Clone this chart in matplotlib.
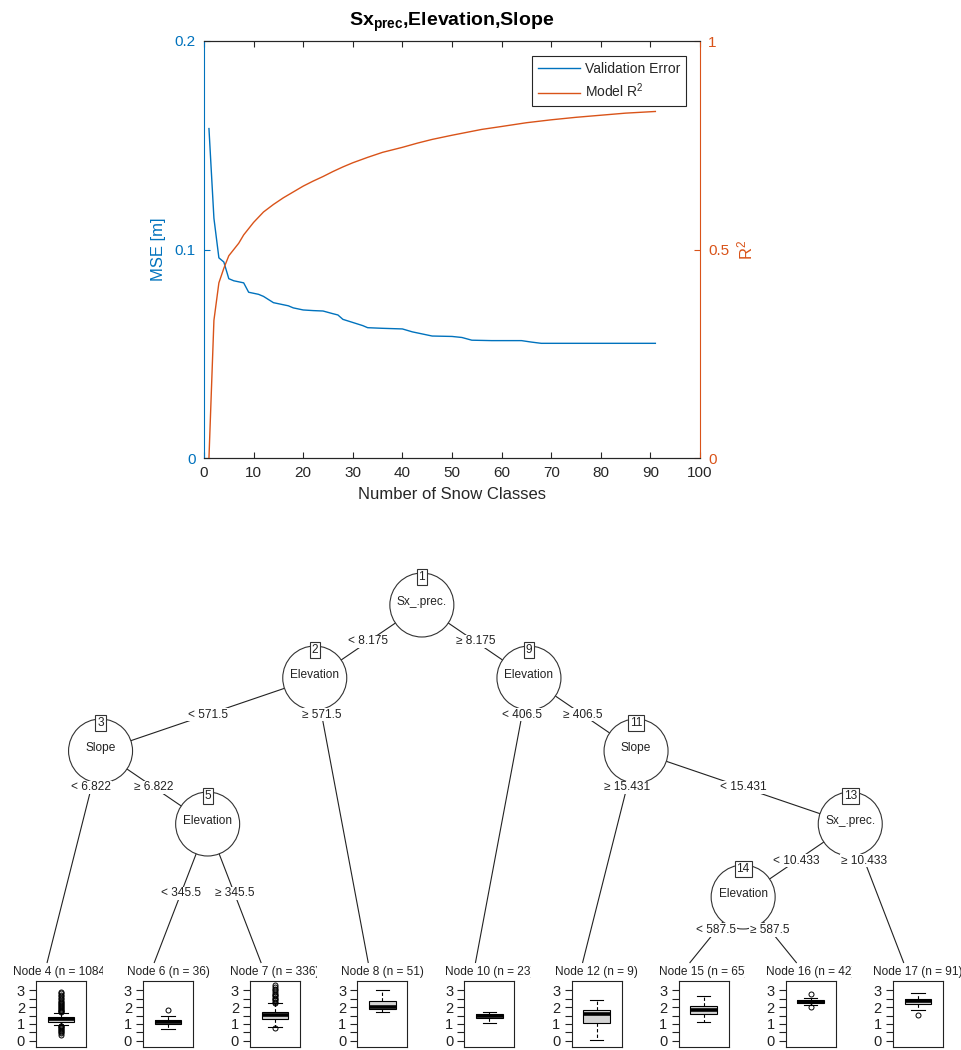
import matplotlib
matplotlib.use("Agg")
import matplotlib.pyplot as plt
from matplotlib import font_manager as fm
from matplotlib.patches import Circle
from matplotlib.transforms import Bbox, TransformedBbox
from matplotlib.ticker import FixedLocator, NullFormatter

# ---------------- cross-validation curves ----------------
mse_classes = [1, 2, 3, 4, 5, 6, 7, 8, 9, 10, 11, 12, 13, 14, 15, 16, 17, 18,
               19, 20, 22, 24, 26, 27, 28, 30, 32, 33, 36, 40, 42, 44, 46, 50,
               52, 54, 58, 64, 66, 68, 91]
mse_values = [0.158, 0.115, 0.096, 0.094, 0.086, 0.085, 0.0845, 0.084, 0.0795,
              0.079, 0.0785, 0.0775, 0.076, 0.0745, 0.074, 0.0735, 0.073,
              0.072, 0.0715, 0.071, 0.0707, 0.0705, 0.0692, 0.0686, 0.0665,
              0.065, 0.0635, 0.0625, 0.0622, 0.0619, 0.0605, 0.0595, 0.0585,
              0.0583, 0.0578, 0.0565, 0.0563, 0.0563, 0.0556, 0.055, 0.055]

r2_classes = [1, 2, 3, 4, 5, 6, 7, 8, 9, 10, 12, 14, 16, 18, 20, 22, 24, 26,
              28, 30, 33, 36, 40, 43, 46, 50, 53, 56, 60, 65, 70, 75, 80, 85,
              91]
r2_values = [0.0, 0.33, 0.42, 0.455, 0.485, 0.50, 0.515, 0.535, 0.55, 0.565,
             0.59, 0.608, 0.624, 0.638, 0.652, 0.664, 0.675, 0.687, 0.698,
             0.708, 0.721, 0.733, 0.745, 0.755, 0.764, 0.774, 0.781, 0.788,
             0.795, 0.804, 0.811, 0.817, 0.822, 0.827, 0.831]

x_ticks = [0, 10, 20, 30, 40, 50, 60, 70, 80, 90, 100]
mse_ticks = [0, 0.1, 0.2]
mse_tick_labels = ["0", "0.1", "0.2"]
r2_ticks = [0, 0.5, 1]
r2_tick_labels = ["0", "0.5", "1"]

# ---------------- conditional inference tree ----------------
inner_ids = [1, 2, 3, 5, 9, 11, 13, 14]
inner_vars = ["Sx_.prec.", "Elevation", "Slope", "Elevation", "Elevation",
              "Slope", "Sx_.prec.", "Elevation"]
inner_splits = [8.175, 571.5, 6.822, 345.5, 406.5, 15.431, 10.433, 587.5]
inner_left = [2, 3, 4, 6, 10, 12, 14, 15]
inner_right = [9, 8, 5, 7, 11, 13, 17, 16]
inner_left_is_lower = [True, True, True, True, True, False, True, True]

leaf_ids = [4, 6, 7, 8, 10, 12, 15, 16, 17]
leaf_n = [1084, 36, 336, 51, 23, 9, 65, 42, 91]
leaf_q1 = [1.14, 0.98, 1.28, 1.86, 1.34, 1.04, 1.59, 2.22, 2.16]
leaf_med = [1.28, 1.10, 1.53, 2.02, 1.45, 1.59, 1.82, 2.31, 2.35]
leaf_q3 = [1.43, 1.24, 1.73, 2.37, 1.60, 1.82, 2.06, 2.41, 2.51]
leaf_whislo = [0.94, 0.71, 0.80, 1.73, 1.04, 0.06, 1.10, 2.10, 1.82]
leaf_whishi = [1.66, 1.49, 2.22, 3.00, 1.69, 2.45, 2.67, 2.55, 2.86]
leaf_fliers = [
    [1.70, 1.74, 1.78, 1.83, 1.88, 1.93, 1.98, 2.04, 2.10, 2.16, 2.22, 2.30,
     2.38, 2.46, 2.55, 2.64, 2.74, 2.85, 2.92,
     0.90, 0.86, 0.82, 0.77, 0.72, 0.66, 0.60, 0.52, 0.44, 0.36],
    [1.82],
    [2.27, 2.33, 2.40, 2.47, 2.55, 2.63, 2.72, 2.80, 2.90, 3.00, 3.10, 3.20,
     3.30, 0.73],
    [],
    [],
    [],
    [],
    [2.75, 2.02],
    [1.53],
]
leaf_ylim = (-0.37, 3.55)
leaf_ticks = [0, 1, 2, 3]
leaf_minor_ticks = [0.5, 1.5, 2.5]

# ---------------- styling ----------------
BLUE = "#0072BD"
ORANGE = "#D95319"
AXC = "#262626"

plt.rcParams["font.family"] = ["Liberation Sans", "DejaVu Sans"]
plt.rcParams["mathtext.fontset"] = "custom"
plt.rcParams["mathtext.rm"] = "Liberation Sans"
plt.rcParams["mathtext.it"] = "Liberation Sans:italic"
plt.rcParams["mathtext.bf"] = "Liberation Sans:bold"


def narrow_family():
    for fam in ["Liberation Sans Narrow", "Arial Narrow"]:
        try:
            fm.findfont(fm.FontProperties(family=fam), fallback_to_default=False)
            return fam, 1.0
        except ValueError:
            pass
    return "Liberation Sans", 0.86


NARROW, NSCALE = narrow_family()
TREE_FONT = [NARROW, "DejaVu Sans"]
TREE_FS = 10.0 * NSCALE

W, H = 961, 1050
fig = plt.figure(figsize=(W / 100, H / 100), dpi=100)


def fx(px):
    return px / W


def fy(py):
    return 1 - py / H


# ================= upper panel: validation error and R^2 =================
ax1 = fig.add_axes([fx(204), fy(458), fx(700) - fx(204), fy(41) - fy(458)])
ax2 = ax1.twinx()

l1, = ax1.plot(mse_classes, mse_values, color=BLUE, lw=1.0,
               label="Validation Error")
l2, = ax2.plot(r2_classes, r2_values, color=ORANGE, lw=1.0,
               label="Model R$^2$")

ax1.set_xlim(0, 100)
ax1.set_ylim(0, 0.2)
ax2.set_ylim(0, 1)
ax1.set_xticks(x_ticks)
ax1.set_yticks(mse_ticks)
ax1.set_yticklabels(mse_tick_labels)
ax2.set_yticks(r2_ticks)
ax2.set_yticklabels(r2_tick_labels)

for a in (ax1, ax2):
    for s in a.spines.values():
        s.set_linewidth(0.8)
        s.set_color(AXC)
ax1.spines["left"].set_color(BLUE)
ax2.spines["left"].set_visible(False)
ax1.spines["right"].set_visible(False)
ax2.spines["right"].set_color(ORANGE)

ax1.tick_params(axis="x", direction="in", top=True, length=4.5, width=0.8,
                color=AXC, labelcolor=AXC, labelsize=11, pad=6)
ax1.tick_params(axis="y", direction="in", length=4.5, width=0.8, color=BLUE,
                labelcolor=BLUE, labelsize=11, pad=6)
ax2.tick_params(axis="y", direction="in", length=4.5, width=0.8,
                color=ORANGE, labelcolor=ORANGE, labelsize=11, pad=6)

ax1.set_xlabel("Number of Snow Classes", fontsize=12, color=AXC, labelpad=5)
ax1.set_ylabel("MSE [m]", fontsize=12, color=BLUE, labelpad=6)
ax2.set_ylabel("R$^2$", fontsize=12, color=ORANGE, labelpad=4)
ax1.set_title("Sx$_{\\mathbf{prec}}$,Elevation,Slope", fontsize=14,
              fontweight="bold", color="black", pad=11)

leg = ax2.legend(handles=[l1, l2], loc="upper right",
                 bbox_to_anchor=(0.972, 0.964), borderaxespad=0,
                 fontsize=10, frameon=True, fancybox=False, framealpha=1,
                 edgecolor=AXC, handlelength=3.0, handletextpad=0.4,
                 labelspacing=0.45, borderpad=0.4)
leg.get_frame().set_linewidth(0.8)
for t in leg.get_texts():
    t.set_color(AXC)

# ================= lower panel: regression tree =================
TOP_PX = 540
tree_ax = fig.add_axes([0, 0, 1, fy(TOP_PX)])
tree_ax.set_xlim(0, W)
tree_ax.set_ylim(H, TOP_PX)
tree_ax.axis("off")

LEAF_X0, LEAF_DX = 47.0, 107.1
LEVEL_Y0, LEVEL_DY = 605.0, 73.0
LEAF_TOP = 963.0
NODE_R = 32.0

children = {i: (l, r) for i, l, r in zip(inner_ids, inner_left, inner_right)}
inner_info = {i: (v, s, low) for i, v, s, low in
              zip(inner_ids, inner_vars, inner_splits, inner_left_is_lower)}
leaf_set = set(leaf_ids)


def leaves_of(node):
    if node in leaf_set:
        return [node]
    l, r = children[node]
    return leaves_of(l) + leaves_of(r)


order = leaves_of(inner_ids[0])
leaf_x = {nid: LEAF_X0 + k * LEAF_DX for k, nid in enumerate(order)}
pos = {}


def place(node, depth):
    if node in leaf_set:
        pos[node] = (leaf_x[node], LEAF_TOP)
        return
    l, r = children[node]
    place(l, depth + 1)
    place(r, depth + 1)
    x = 0.5 * (leaf_x[leaves_of(l)[-1]] + leaf_x[leaves_of(r)[0]])
    pos[node] = (x, LEVEL_Y0 + depth * LEVEL_DY)


place(inner_ids[0], 0)

txt_kw = dict(family=TREE_FONT, fontsize=TREE_FS, color="#222222")

for nid in inner_ids:
    x0, y0 = pos[nid]
    l, r = children[nid]
    var, split, left_low = inner_info[nid]
    y_lab = 0.5 * (y0 + min(pos[l][1], pos[r][1]))
    lo_txt, hi_txt = f"< {split:g}", f"\u2265 {split:g}"
    labels = (lo_txt, hi_txt) if left_low else (hi_txt, lo_txt)
    for kid, lab in zip((l, r), labels):
        x1, y1 = pos[kid]
        tree_ax.plot([x0, x1], [y0, y1], color="#222222", lw=0.8, zorder=1,
                     solid_capstyle="butt")
        xl = x0 + (x1 - x0) * (y_lab - y0) / (y1 - y0)
        tree_ax.text(xl, y_lab, lab, ha="center", va="center", zorder=4,
                     bbox=dict(boxstyle="square,pad=0.08", fc="white",
                               ec="none"), **txt_kw)
    tree_ax.add_patch(Circle((x0, y0), NODE_R, fc="white", ec="#333333",
                             lw=0.8, zorder=2))
    tree_ax.text(x0, y0 - 3, var, ha="center", va="center", zorder=3,
                 **txt_kw)
    tree_ax.text(x0, y0 - NODE_R + 4, str(nid), ha="center", va="center",
                 zorder=5, bbox=dict(boxstyle="square,pad=0.15", fc="white",
                                     ec="#333333", lw=0.8), **txt_kw)

# terminal nodes: title (clipped to its panel) plus boxplot of snow depth
FRAME_L, FRAME_W = -11.0, 50.0
FRAME_T, FRAME_B = 981.0, 1047.0
for k, nid in enumerate(leaf_ids):
    xa = leaf_x[nid]
    xc = xa + FRAME_L + FRAME_W / 2
    title = tree_ax.text(xc, 972, f"Node {nid} (n = {leaf_n[k]})",
                         ha="center", va="center", zorder=3, **txt_kw)
    right_room = 41.5 if k < len(leaf_ids) - 1 else 49.0
    clip = TransformedBbox(Bbox.from_extents(fx(xc - 55), fy(990),
                                             fx(xc + right_room), fy(955)),
                           fig.transFigure)
    title.set_clip_on(True)
    title.set_clip_box(clip)

    bax = fig.add_axes([fx(xa + FRAME_L), fy(FRAME_B), FRAME_W / W,
                        (FRAME_B - FRAME_T) / H])
    stats = dict(med=leaf_med[k], q1=leaf_q1[k], q3=leaf_q3[k],
                 whislo=leaf_whislo[k], whishi=leaf_whishi[k],
                 fliers=leaf_fliers[k])
    bax.bxp([stats], positions=[0.5], widths=[0.53], capwidths=[0.27],
            patch_artist=True, showfliers=True,
            boxprops=dict(facecolor="#d3d3d3", edgecolor="black", lw=0.8),
            medianprops=dict(color="black", lw=2.6, solid_capstyle="butt"),
            whiskerprops=dict(color="black", lw=0.8, linestyle=(0, (3, 2))),
            capprops=dict(color="black", lw=0.8),
            flierprops=dict(marker="o", mfc="none", mec="black", ms=3.6,
                            mew=0.7))
    bax.set_xlim(0, 1)
    bax.set_ylim(*leaf_ylim)
    bax.set_xticks([])
    bax.yaxis.set_major_locator(FixedLocator(leaf_ticks))
    bax.yaxis.set_minor_locator(FixedLocator(leaf_minor_ticks))
    bax.yaxis.set_minor_formatter(NullFormatter())
    bax.tick_params(axis="y", which="both", direction="out", length=5,
                    width=0.8, color="#222222", labelsize=10.5,
                    labelcolor="#222222", pad=3)
    for lab in bax.get_yticklabels():
        lab.set_family(TREE_FONT)
    for s in bax.spines.values():
        s.set_linewidth(0.8)
        s.set_color("#222222")

fig.savefig("out.png", dpi=100)
